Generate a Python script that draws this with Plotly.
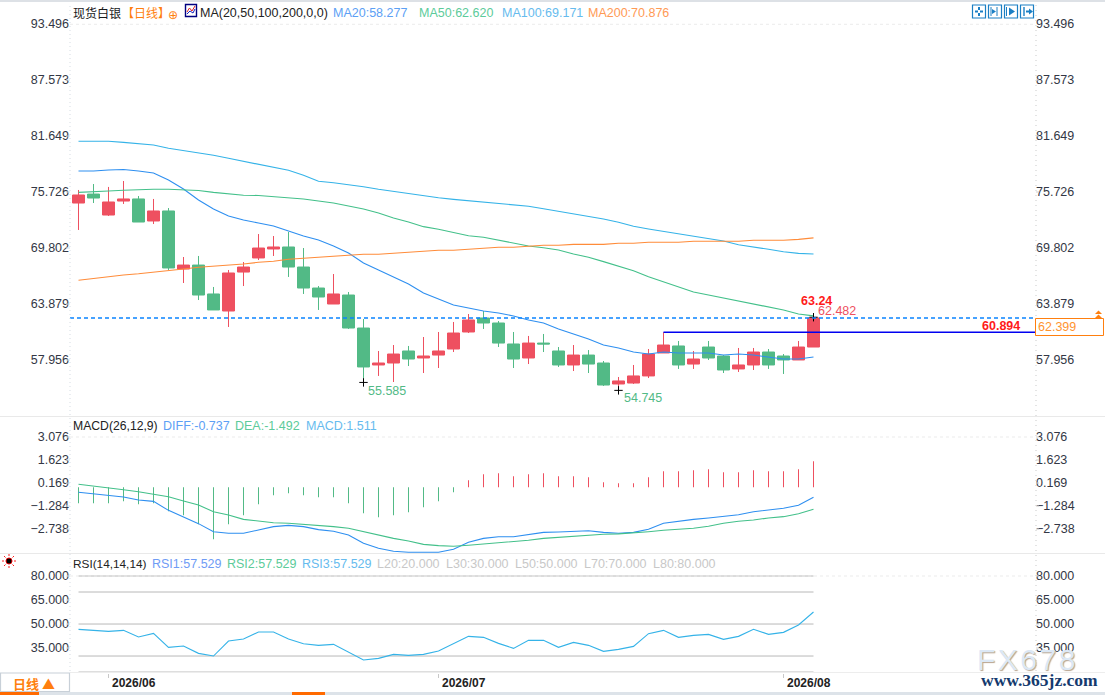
import plotly.graph_objects as go

W, H = 1105, 695
FONT = "Liberation Sans, Arial, sans-serif"
CJK = "Noto Sans CJK SC, sans-serif"

UP = "#EE5060"
DOWN = "#52BA86"
C_MA20 = "#2E8FF0"
C_MA50 = "#43C08A"
C_MA100 = "#35B3E8"
C_MA200 = "#FF8C3A"
ORANGE = "#FF7F0E"

DAYS = list(range(50))
MONTH_TICKS = [2, 24, 47]
MONTH_LABELS = ["2026/06", "2026/07", "2026/08"]

OPEN = [74.56, 75.51, 73.29, 74.77, 74.99, 72.66, 73.72, 67.58, 68.00, 64.94,
        63.14, 67.26, 68.75, 69.70, 69.91, 67.79, 65.57, 63.88, 64.83, 61.34,
        57.43, 57.64, 58.91, 58.17, 58.48, 59.12, 60.92, 62.40, 61.87, 59.65,
        58.17, 59.75, 58.91, 57.43, 58.48, 57.64, 55.42, 55.52, 56.27, 58.70,
        59.44, 57.53, 59.33, 58.38, 57.01, 57.43, 58.80, 58.38, 57.96, 59.33]
HIGH = [75.94, 76.57, 76.26, 76.89, 75.30, 74.99, 74.03, 68.85, 68.96, 65.68,
        67.48, 68.32, 71.28, 71.07, 71.50, 69.80, 65.78, 67.05, 65.15, 62.29,
        58.91, 59.54, 59.44, 60.39, 60.92, 61.98, 62.82, 63.14, 62.08, 60.92,
        60.50, 60.71, 59.33, 59.54, 59.01, 57.85, 56.16, 57.43, 59.12, 60.894,
        59.97, 58.91, 59.97, 58.48, 59.23, 59.23, 59.12, 58.59, 59.97, 62.482]
LOW = [71.71, 74.56, 73.19, 74.46, 72.55, 72.34, 67.48, 66.10, 64.30, 63.25,
       61.45, 65.78, 68.53, 68.96, 66.74, 64.94, 63.25, 63.88, 61.24, 55.585,
       56.27, 55.63, 57.32, 56.58, 57.11, 58.80, 60.81, 61.24, 59.33, 57.11,
       57.53, 58.80, 57.22, 56.79, 56.58, 55.21, 54.745, 55.42, 56.05, 58.70,
       57.01, 57.01, 57.96, 56.58, 56.69, 56.90, 57.01, 56.48, 57.96, 59.33]
CLOSE = [75.41, 75.09, 74.67, 74.99, 72.55, 73.72, 67.69, 68.00, 64.83, 63.25,
         67.16, 67.79, 69.80, 69.91, 67.79, 65.57, 64.62, 64.94, 61.34, 57.22,
         57.64, 58.59, 58.06, 58.38, 58.91, 60.81, 62.19, 61.87, 59.75, 58.06,
         59.75, 59.65, 57.43, 58.48, 57.53, 55.31, 55.74, 56.27, 58.59, 59.54,
         57.43, 58.06, 58.17, 56.90, 57.43, 58.80, 57.43, 57.96, 59.33, 62.399]

MA20 = [77.95, 77.95, 78.05, 78.11, 77.95, 77.74, 77.00, 76.04, 74.88, 73.93,
        73.19, 72.76, 72.45, 72.13, 71.60, 71.07, 70.65, 70.02, 69.28, 68.22,
        67.48, 66.74, 65.99, 65.04, 64.41, 63.77, 63.46, 63.14, 62.93, 62.61,
        62.19, 61.87, 61.24, 60.71, 60.18, 59.54, 59.23, 58.80, 58.59, 58.80,
        58.70, 58.70, 58.70, 58.48, 58.59, 58.48, 58.27, 58.06, 58.06, 58.277]
MA50 = [75.69, 75.73, 75.83, 75.91, 75.99, 76.01, 76.01, 75.99, 75.89, 75.69,
        75.55, 75.38, 75.36, 75.25, 75.12, 74.99, 74.77, 74.56, 74.25, 73.93,
        73.51, 72.98, 72.55, 72.06, 71.78, 71.42, 71.10, 70.94, 70.65, 70.36,
        70.02, 69.83, 69.59, 69.17, 68.82, 68.36, 67.90, 67.40, 66.77, 66.24,
        65.63, 65.15, 64.83, 64.51, 64.20, 63.94, 63.56, 63.25, 62.82, 62.62]
MA100 = [81.09, 81.09, 81.09, 80.98, 80.88, 80.70, 80.35, 80.11, 79.93, 79.61,
         79.29, 78.97, 78.72, 78.40, 78.02, 77.49, 76.86, 76.71, 76.54, 76.29,
         76.01, 75.78, 75.62, 75.34, 75.12, 74.95, 74.80, 74.64, 74.49, 74.32,
         74.22, 73.96, 73.69, 73.43, 73.16, 72.87, 72.52, 72.10, 71.81, 71.57,
         71.32, 71.04, 70.83, 70.54, 70.15, 69.94, 69.67, 69.41, 69.24, 69.171]
MA200 = [66.39, 66.60, 66.77, 66.95, 67.08, 67.27, 67.45, 67.58, 67.76, 67.87,
         67.97, 68.11, 68.29, 68.40, 68.61, 68.71, 68.82, 68.93, 69.03, 69.14,
         69.14, 69.24, 69.35, 69.45, 69.56, 69.56, 69.67, 69.77, 69.88, 69.88,
         69.99, 70.09, 70.09, 70.19, 70.19, 70.19, 70.30, 70.30, 70.41, 70.41,
         70.41, 70.51, 70.51, 70.51, 70.51, 70.62, 70.62, 70.62, 70.72, 70.876]

DIFF = [-0.42, -0.51, -0.61, -0.72, -0.91, -0.99, -1.56, -1.96, -2.40, -2.91,
        -3.01, -3.01, -2.80, -2.59, -2.51, -2.59, -2.78, -2.88, -3.12, -3.64,
        -3.96, -4.15, -4.21, -4.21, -4.21, -4.02, -3.58, -3.33, -3.23, -3.23,
        -3.10, -2.95, -2.93, -2.88, -2.85, -2.95, -3.01, -2.95, -2.76, -2.38,
        -2.25, -2.13, -2.04, -1.94, -1.84, -1.65, -1.54, -1.43, -1.24, -0.737]
DEA = [0.09, -0.04, -0.13, -0.26, -0.38, -0.53, -0.70, -0.97, -1.22, -1.65,
       -1.85, -2.13, -2.25, -2.34, -2.38, -2.44, -2.53, -2.59, -2.69, -2.91,
       -3.12, -3.33, -3.50, -3.71, -3.79, -3.83, -3.77, -3.69, -3.58, -3.54,
       -3.45, -3.33, -3.26, -3.20, -3.12, -3.07, -3.05, -2.99, -2.91, -2.82,
       -2.76, -2.69, -2.57, -2.38, -2.25, -2.17, -2.04, -1.96, -1.77, -1.492]
MACD = [-1.01, -1.01, -1.01, -0.88, -1.07, -1.01, -1.52, -1.77, -2.34, -3.29,
        -2.34, -1.77, -1.07, -0.51, -0.38, -0.51, -0.63, -0.63, -1.01, -1.64,
        -1.90, -1.77, -1.58, -1.26, -0.88, -0.32, 0.44, 0.82, 0.88, 0.70,
        0.82, 0.88, 0.70, 0.70, 0.63, 0.32, 0.25, 0.25, 0.63, 1.01,
        1.01, 1.07, 1.14, 0.95, 0.95, 1.07, 1.01, 1.01, 1.14, 1.64]

RSI = [46.67, 46.04, 45.42, 46.04, 41.88, 44.17, 35.42, 36.25, 31.67, 30.00,
       39.38, 40.63, 45.00, 45.00, 40.63, 37.71, 36.67, 37.29, 32.29, 27.50,
       28.54, 31.04, 30.42, 31.04, 33.13, 37.92, 42.29, 41.67, 37.92, 34.79,
       39.79, 39.79, 35.42, 38.54, 36.67, 32.92, 34.17, 36.04, 43.96, 46.04,
       41.67, 42.92, 43.54, 40.42, 42.29, 46.67, 43.54, 44.79, 49.38, 57.529]
RSI_LEVELS = [20, 30, 50, 70, 80]

PRICE_TICKS = [93.496, 87.573, 81.649, 75.726, 69.802, 63.879, 57.956]
MACD_TICKS = [3.076, 1.623, 0.169, -1.284, -2.738]
RSI_TICKS = [80, 65, 50, 35]

LAST_PRICE = 62.399
MARK_PRICE = 60.894
MARK_DAY = 39
CROSS_DAYS = [19, 36, 49]
CROSS_PRICES = [55.585, 54.745, 62.482]

# candle 0 sits on this pixel, candles are 15px apart
X0_PX = 78.5
STEP_PX = 15


def fx(x):
    return x / W


def fy(y):
    return 1 - y / H


annotations = []
shapes = []


def note(x, y, text, color="#222222", size=12.5, bold=False, anchor="left", font=FONT, shadow=None):
    f = {"family": font, "size": size, "color": color}
    if bold:
        f["weight"] = "bold"
    if shadow:
        f["shadow"] = shadow
    annotations.append(dict(
        x=fx(x), y=fy(y), xref="paper", yref="paper", text=text, showarrow=False,
        xanchor=anchor, yanchor="middle", font=f, borderpad=0, borderwidth=0,
    ))


def rect(x0, y0, x1, y1, fill=None, line=None, width=1):
    shapes.append(dict(
        type="rect", xref="paper", yref="paper", x0=fx(x0), y0=fy(y0), x1=fx(x1), y1=fy(y1),
        fillcolor=fill or "rgba(0,0,0,0)", line={"color": line or "rgba(0,0,0,0)", "width": width if line else 0},
    ))


def seg(x0, y0, x1, y1, color, width=1, dash="solid"):
    shapes.append(dict(
        type="line", xref="paper", yref="paper", x0=fx(x0), y0=fy(y0), x1=fx(x1), y1=fy(y1),
        line={"color": color, "width": width, "dash": dash},
    ))


def poly(points, fill=None, line=None, width=1, close=True):
    path = "M " + " L ".join(f"{fx(px):.5f},{fy(py):.5f}" for px, py in points)
    if close:
        path += " Z"
    shapes.append(dict(
        type="path", xref="paper", yref="paper", path=path,
        fillcolor=fill or "rgba(0,0,0,0)", line={"color": line or "rgba(0,0,0,0)", "width": width if line else 0},
    ))


fig = go.Figure()

fig.add_trace(go.Bar(
    x=DAYS, y=MACD, base=-0.1, width=0.06, xaxis="x", yaxis="y2",
    marker={"color": [UP if v > 0 else DOWN for v in MACD], "line": {"width": 0}},
))
fig.add_trace(go.Candlestick(
    x=DAYS, open=OPEN, high=HIGH, low=LOW, close=CLOSE, xaxis="x", yaxis="y",
    whiskerwidth=0,
    increasing={"line": {"color": UP, "width": 1}, "fillcolor": UP},
    decreasing={"line": {"color": DOWN, "width": 1}, "fillcolor": DOWN},
))

for values, color in [(MA20, C_MA20), (MA50, C_MA50), (MA100, C_MA100), (MA200, C_MA200)]:
    fig.add_trace(go.Scatter(x=DAYS, y=values, mode="lines", line={"color": color, "width": 1.1},
                             xaxis="x", yaxis="y"))

fig.add_trace(go.Scatter(x=CROSS_DAYS, y=CROSS_PRICES, mode="markers", xaxis="x", yaxis="y",
                         marker={"symbol": "cross-thin", "size": 6, "line": {"width": 1, "color": "#000000"}}))

fig.add_trace(go.Scatter(x=DAYS, y=DIFF, mode="lines", line={"color": C_MA20, "width": 1.1}, xaxis="x", yaxis="y2"))
fig.add_trace(go.Scatter(x=DAYS, y=DEA, mode="lines", line={"color": C_MA50, "width": 1.1}, xaxis="x", yaxis="y2"))

for level in RSI_LEVELS:
    fig.add_trace(go.Scatter(x=[DAYS[0], DAYS[-1]], y=[level, level], mode="lines",
                             line={"color": "#B8B8B8", "width": 1}, xaxis="x", yaxis="y3"))
fig.add_trace(go.Scatter(x=DAYS, y=RSI, mode="lines", line={"color": C_MA100, "width": 1.1}, xaxis="x", yaxis="y3"))

# invisible traces so the right hand axes get drawn
for ax, val in [("y4", PRICE_TICKS[0]), ("y5", MACD_TICKS[0]), ("y6", RSI_TICKS[0])]:
    fig.add_trace(go.Scatter(x=[DAYS[0]], y=[val], mode="markers", marker={"opacity": 0}, xaxis="x", yaxis=ax))

# last price and marked price lines
shapes.append(dict(type="line", xref="paper", yref="y", x0=fx(70), x1=fx(1035), y0=LAST_PRICE, y1=LAST_PRICE,
                   line={"color": "#0A84FF", "width": 1.3, "dash": "4px,3px"}))
shapes.append(dict(type="line", xref="x", yref="y", x0=MARK_DAY, x1=(1035 - X0_PX) / STEP_PX, y0=MARK_PRICE, y1=MARK_PRICE,
                   line={"color": "#0000F0", "width": 1.3}))

# panel frame
for top_y in [24.3, 437, 576]:
    seg(70, top_y, 1035, top_y, "#EBEBEB", 1, "3px,3px")
seg(0, 416.5, W, 416.5, "#E9E9E9", 1.2)
seg(0, 553.5, W, 553.5, "#E9E9E9", 1.2)
seg(70, 672.5, W, 672.5, "#EDEDED", 1)
seg(70, 6, 70, 672, "#D5DCE3", 1, "1px,3px")
seg(1036, 0, 1036, 672, "#C9C9C9", 1, "1px,4px")
rect(0, 0, W, 2, fill="#DDE1E6")
rect(0, 692, W, H, fill="#DDE3E9")
rect(0, 692, 39, H, fill="#FF6A00")
rect(292, 692, 325, H, fill="#FF6A00")

# small tick stubs on both value scales
for tick_y in [80, 136, 192, 248, 304, 360, 437, 460, 483, 506, 529, 576, 600, 624, 648]:
    seg(66, tick_y, 70, tick_y, "#CFE0EC", 1)
    seg(1036, tick_y, 1039, tick_y, "#CFCFCF", 1)

# headline row
note(73, 13, "现货白银", "#1A1A1A", 12, font=CJK)
note(122, 13, "【日线】", ORANGE, 12, font=CJK)
note(172.5, 14.5, "⊕", ORANGE, 12, anchor="center", font="DejaVu Sans")
rect(185.5, 4.5, 196.5, 16.5, fill="#FFFFFF", line="#000080", width=1.4)
poly([(187, 12), (189.5, 8), (192, 11), (195, 6)], line="#E02020", close=False)
poly([(187, 14), (190, 11), (193, 13), (195, 9)], line="#1020C0", close=False)
note(200, 13, "MA(20,50,100,200,0,0)", "#222222")
note(333, 13, "MA20:58.277", "#5CA0F5")
note(419, 13, "MA50:62.620", "#5CCB9A")
note(502, 13, "MA100:69.171", "#66BBEE")
note(588, 13, "MA200:70.876", "#FF9A55")

note(73, 425.5, "MACD(26,12,9)", "#222222", 12.2)
note(162.5, 425.5, "DIFF:-0.737", "#5CA0F5")
note(235, 425.5, "DEA:-1.492", "#5CCB9A")
note(305.5, 425.5, "MACD:1.511", "#66BBEE")

note(73, 563.5, "RSI(14,14,14)", "#222222", 11.8)
note(152, 563.5, "RSI1:57.529", "#6F9CF5")
note(227, 563.5, "RSI2:57.529", "#5CCB9A")
note(302, 563.5, "RSI3:57.529", "#66BBEE")
for x_pos, txt in [(377, "L20:20.000"), (446, "L30:30.000"), (515, "L50:50.000"), (584, "L70:70.000"), (653, "L80:80.000")]:
    note(x_pos, 563.5, txt, "#C8C8C8")

# price labels on the chart
note(801, 301, "63.24", "#FF1A1A", 12.5, bold=True)
note(818, 311, "62.482", "#EE5060", 12.5)
note(982, 326, "60.894", "#FF1A1A", 12.5, bold=True)
note(368, 391, "55.585", DOWN, 12.5)
note(624, 398, "54.745", DOWN, 12.5)

# last price tag
rect(1035.5, 318.5, 1103.5, 335.5, fill="#FFFFFF", line=ORANGE, width=1)
note(1038, 327, "62.399", "#FF9430", 12.5)
poly([(1095, 314), (1098.5, 310.5), (1102, 314)], fill=ORANGE)
poly([(1095, 318), (1098.5, 314.5), (1102, 318)], fill=ORANGE)

# toolbar
BLUE = "#1B7FC4"
for left in [972.5, 988.5, 1004.5, 1020.5]:
    rect(left, 5, left + 13, 18, fill="#FFFFFF", line=BLUE, width=1.2)
seg(979, 7, 979, 10, BLUE, 2)
seg(979, 13, 979, 16, BLUE, 2)
seg(975, 11.5, 978, 11.5, BLUE, 2)
seg(980, 11.5, 983, 11.5, BLUE, 2)
seg(991, 7, 991, 16, BLUE, 1)
seg(997, 7, 997, 16, BLUE, 1)
poly([(992, 9), (996, 11.5), (992, 14)], fill=BLUE)
seg(1006.5, 7, 1006.5, 16, BLUE, 1)
poly([(1009, 7.5), (1015, 11.5), (1009, 15.5)], fill=BLUE)
seg(1024, 7, 1024, 16, BLUE, 1.4)
seg(1026, 11.5, 1029, 11.5, BLUE, 2)
poly([(1029, 8.5), (1033, 11.5), (1029, 14.5)], fill=BLUE)

# period button and the sun icon
rect(0.5, 673, 69.5, 691.5, fill="#FFFFFF", line="#C8D0D8", width=1.2)
note(33.5, 683, "日线 ▲", ORANGE, 13, bold=True, anchor="center", font=CJK)
shapes.append(dict(type="circle", xref="paper", yref="paper", x0=fx(6), y0=fy(558), x1=fx(12), y1=fy(564),
                   fillcolor="#000000", line={"color": "#E00000", "width": 1}))
for x0, y0, x1, y1 in [(9, 554, 9, 556), (9, 566, 9, 568), (2, 561, 4, 561), (14, 561, 16, 561),
                       (4, 556, 5.5, 557.5), (14, 556, 12.5, 557.5), (4, 566, 5.5, 564.5), (14, 566, 12.5, 564.5)]:
    seg(x0, y0, x1, y1, "#FF2020", 1)

# month labels sit just right of their tick
for day, txt in zip(MONTH_TICKS, MONTH_LABELS):
    annotations.append(dict(x=day, y=fy(683), xref="x", yref="paper", text=txt, showarrow=False,
                            xanchor="left", xshift=1, yanchor="middle",
                            font={"family": FONT, "size": 12, "color": "#222222", "weight": "bold"}))

# watermark
note(1026, 659, "F\u200aX\u200a6\u200a7\u200a8", "#DCE8F5", 30, anchor="center", shadow="1px 1px 1px #B8A48E")
note(1098, 680, "www.365jz.com", "#143A6E", 17.5, bold=True, anchor="right", font="Liberation Serif")

left_axis = dict(side="left", anchor="x", ticks="", ticklen=0, showgrid=False,
                 zeroline=False, showline=False, tickformat=".3f", tickfont={"family": FONT, "size": 12.5, "color": "#333745"})

fig.update_layout(
    width=W, height=H,
    margin={"l": 0, "r": 0, "t": 0, "b": 0},
    paper_bgcolor="#FFFFFF", plot_bgcolor="#FFFFFF",
    showlegend=False, hovermode=False, boxgap=0.2, boxgroupgap=0,
    annotations=annotations, shapes=shapes,
    xaxis=dict(domain=[fx(70), fx(1035)], range=[(70 - X0_PX) / STEP_PX, (1035 - X0_PX) / STEP_PX], anchor="y3",
               rangeslider={"visible": False}, showgrid=False, zeroline=False, showline=False,
               tickvals=MONTH_TICKS, ticktext=["", "", ""], ticks="outside", ticklen=4, tickcolor="#C8C8C8"),
    yaxis=dict(left_axis, domain=[fy(416), fy(8)], range=[52.034, 95.188], tickvals=PRICE_TICKS),
    yaxis2=dict(left_axis, domain=[fy(553), fy(417)], range=[-4.256, 4.340], tickvals=MACD_TICKS),
    yaxis3=dict(left_axis, domain=[fy(673), fy(555)], range=[19.4, 93.125], tickvals=RSI_TICKS),
    yaxis4=dict(left_axis, side="right", overlaying="y", domain=[fy(416), fy(8)], range=[52.034, 95.188], tickvals=PRICE_TICKS),
    yaxis5=dict(left_axis, side="right", overlaying="y2", domain=[fy(553), fy(417)], range=[-4.256, 4.340], tickvals=MACD_TICKS),
    yaxis6=dict(left_axis, side="right", overlaying="y3", domain=[fy(673), fy(555)], range=[19.4, 93.125], tickvals=RSI_TICKS),
)

fig.write_html("out.html", config={"displayModeBar": False},
               post_script="document.body.style.margin='0';document.body.style.overflow='hidden';")
